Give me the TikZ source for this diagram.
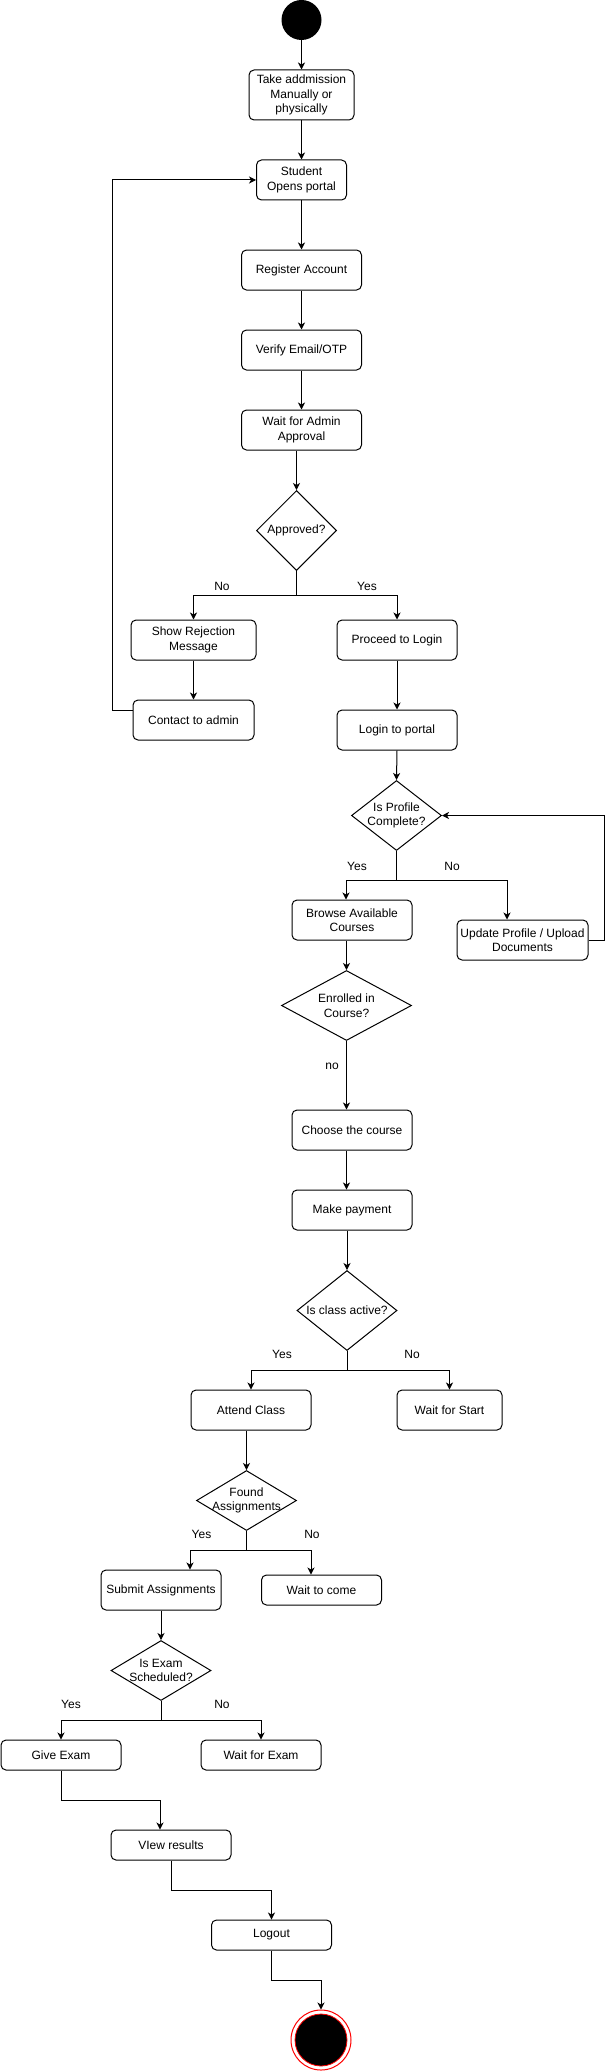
\documentclass[tikz,border=0pt]{standalone}
\usepackage{fontspec}
\setmainfont{Liberation Sans}
\usetikzlibrary{shapes.geometric,arrows.meta,calc}
\begin{document}
\begin{tikzpicture}[x=1pt,y=-1pt,
  every node/.style={font=\fontsize{12pt}{14.4pt}\selectfont},
  box/.style={draw, rounded corners=5pt, line width=1pt, inner sep=0pt, align=center, minimum width=120pt, minimum height=40pt},
  dia/.style={draw, diamond, line width=1pt, inner sep=0pt},
  lbl/.style={inner sep=0pt, align=center},
  arr/.style={line width=1pt, -{Stealth[length=7pt,width=7pt,inset=2pt]}},
  ln/.style={line width=1pt}]
\useasboundingbox (0,0) rectangle (610,2071);

% nodes
\node[circle, fill=black, minimum size=40pt, inner sep=0pt] (start) at (301.5,20) {};
\node[box, minimum width=105pt, minimum height=50pt] (adm) at (301.5,95) {Take addmission\\Manually or\\physically};
\node[box, minimum width=90pt] (stud) at (301.5,180) {Student\\Opens portal};
\node[box] (reg) at (301.5,270) {Register Account};
\node[box] (ver) at (301.5,350) {Verify Email/OTP};
\node[box] (wait) at (301.5,430) {Wait for Admin\\Approval};
\node[dia, minimum width=80pt, minimum height=80pt] (appr) at (296.5,530.5) {};
\node[lbl] (apprT) at (appr.center) {Approved?};
\node[box, minimum width=125pt] (rej) at (193.5,640) {Show Rejection\\Message};
\node[box, minimum width=121pt] (cont) at (193.5,720) {Contact to admin};
\node[box] (proc) at (397,640) {Proceed to Login};
\node[box] (login) at (397,730) {Login to portal};
\node[dia, minimum width=90pt, minimum height=70pt] (prof) at (396.5,815.5) {};
\node[lbl] (profT) at (prof.center) {Is Profile\\Complete?};
\node[box] (browse) at (352,920) {Browse Available\\Courses};
\node[box, minimum width=131pt] (upd) at (522.5,940) {Update Profile / Upload\\Documents};
\node[dia, minimum width=130pt, minimum height=70pt] (enr) at (346.5,1005.5) {};
\node[lbl] (enrT) at (enr.center) {Enrolled in\\Course?};
\node[box] (choose) at (352,1130) {Choose the course};
\node[box] (pay) at (352,1210) {Make payment};
\node[dia, minimum width=100pt, minimum height=80pt] (act) at (347,1310.5) {};
\node[lbl] (actT) at (act.center) {Is class active?};
\node[box] (attend) at (251,1410) {Attend Class};
\node[box, minimum width=105pt] (wstart) at (449.5,1410) {Wait for Start};
\node[dia, minimum width=100pt, minimum height=60pt] (found) at (246.5,1500.5) {};
\node[lbl] (foundT) at (found.center) {Found\\Assignments};
\node[box] (submit) at (161,1590) {Submit Assignments};
\node[box, minimum height=30pt] (wcome) at (321.5,1590) {Wait to come};
\node[dia, minimum width=100pt, minimum height=60pt] (exam) at (161,1670.5) {};
\node[lbl] (examT) at (exam.center) {Is Exam\\Scheduled?};
\node[box, minimum height=30pt] (give) at (61,1755) {Give Exam};
\node[box, minimum height=30pt] (wexam) at (261,1755) {Wait for Exam};
\node[box, minimum height=30pt] (view) at (171,1845) {VIew results};
\node[box, minimum height=30pt] (logout) at (271.5,1935) {Logout};
\node[circle, draw=red, line width=1pt, minimum size=60pt, inner sep=0pt] (end) at (321,2040) {};
\node[circle, fill=black, draw=red, line width=0.8pt, minimum size=52pt, inner sep=0pt] (endin) at (end.center) {};

% branch points
\coordinate (b1) at (296.5,595);
\coordinate (b2) at (396.5,880);
\coordinate (b3) at (347,1370);
\coordinate (b4) at (246.5,1550);
\coordinate (b5) at (161,1720);

% connectors
\draw[arr] (start) -- (adm);
\draw[arr] (adm) -- (stud);
\draw[arr] (stud) -- (reg);
\draw[arr] (reg) -- (ver);
\draw[arr] (ver) -- (wait);
\draw[arr] (wait.south -| appr.north) -- (appr.north);
\draw[ln] (appr.south) -- (b1);
\draw[arr] (b1) -| (rej.north);
\draw[arr] (b1) -| (proc.north);
\draw[arr] (rej) -- (cont);
\draw[arr] ([yshift=10pt]cont.west) -- ++(-20,0) |- (stud.west);
\draw[arr] (proc) -- (login);
\draw[arr] (login.south) -- (prof.north);
\draw[ln] (prof.south) -- (b2);
\draw[arr] (b2) -| ([xshift=-6pt]browse.north);
\draw[arr] (b2) -| ([xshift=-15.5pt]upd.north);
\draw[arr] (upd.east) -- ++(15.5,0) |- (prof.east);
\draw[arr] (browse.south -| enr.north) -- (enr.north);
\draw[arr] (enr.south) -- (enr.south |- choose.north);
\draw[arr] (choose.south -| enr.south) -- (pay.north -| enr.south);
\draw[arr] (pay.south -| act.north) -- (act.north);
\draw[ln] (act.south) -- (b3);
\draw[arr] (b3) -| (attend.north);
\draw[arr] (b3) -| (wstart.north);
\draw[arr] (attend.south -| found.north) -- (found.north);
\draw[ln] (found.south) -- (b4);
\draw[arr] (b4) -| ([xshift=29pt]submit.north);
\draw[arr] (b4) -| ([xshift=-10.5pt]wcome.north);
\draw[arr] (submit) -- (exam);
\draw[ln] (exam.south) -- (b5);
\draw[arr] (b5) -| (give.north);
\draw[arr] (b5) -| (wexam.north);
\draw[arr] (give.south) -- ++(0,30) -| ([xshift=-11pt]view.north);
\draw[arr] (view.south) -- ++(0,30) -| (logout.north);
\draw[arr] (logout.south) -- ++(0,30) -| (end.north);

% edge labels
\node[lbl] (l1) at (222,586) {No};
\node[lbl] (l2) at (367,586) {Yes};
\node[lbl] (l3) at (357,866) {Yes};
\node[lbl] (l4) at (452,866) {No};
\node[lbl] (l5) at (332,1066) {no};
\node[lbl] (l6) at (282,1354) {Yes};
\node[lbl] (l7) at (412,1354) {No};
\node[lbl] (l8) at (201.5,1534) {Yes};
\node[lbl] (l9) at (312,1534) {No};
\node[lbl] (l10) at (71,1704) {Yes};
\node[lbl] (l11) at (222,1704) {No};
\end{tikzpicture}
\end{document}
